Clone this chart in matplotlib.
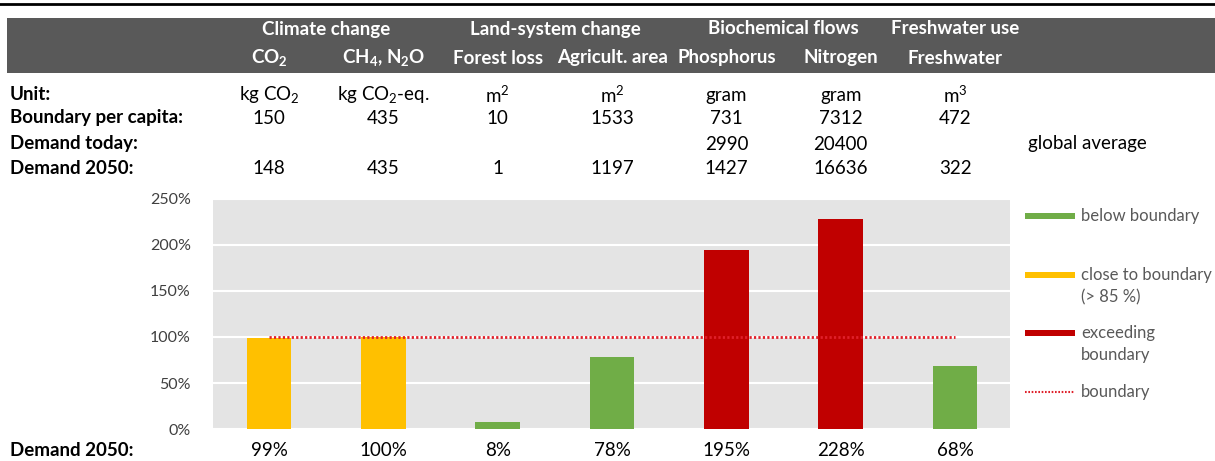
import matplotlib.pyplot as plt
from matplotlib.patches import Rectangle
from matplotlib.lines import Line2D
from matplotlib.transforms import blended_transform_factory

plt.rcParams['font.family'] = ['Lato', 'DejaVu Sans']
plt.rcParams['mathtext.fontset'] = 'custom'
plt.rcParams['mathtext.rm'] = 'Lato'
plt.rcParams['mathtext.bf'] = 'Lato:bold'

# data
groups = ["Climate change", "Land-system change", "Biochemical flows", "Freshwater use"]
group_pos = [0.5, 2.5, 4.5, 6]
categories = [r"CO$_\mathbf{2}$", r"CH$_\mathbf{4}$, N$_\mathbf{2}$O", "Forest loss",
              "Agricult. area", "Phosphorus", "Nitrogen", "Freshwater"]
units = [r"kg CO$_2$", r"kg CO$_2$-eq.", r"m$^2$", r"m$^2$", "gram", "gram", r"m$^3$"]
boundary = [150, 435, 10, 1533, 731, 7312, 472]
demand_today = [None, None, None, None, 2990, 20400, None]
demand_2050 = [148, 435, 1, 1197, 1427, 16636, 322]
share_2050 = [99, 100, 8, 78, 195, 228, 68]
status = ["close", "close", "below", "below", "exceed", "exceed", "below"]

colors = {"below": "#70AD47", "close": "#FFC000", "exceed": "#C00000"}
W, H = 1215, 461

fig = plt.figure(figsize=(W / 100, H / 100), dpi=100)

def fy(px):
    return 1 - px / H

# top rule and dark header band
fig.add_artist(Line2D([0, 1], [fy(4.5), fy(4.5)], color="black", lw=2,
                      transform=fig.transFigure))
fig.add_artist(Rectangle((7 / W, fy(73)), 1 - 7 / W, (73 - 18) / H,
                         transform=fig.transFigure, color="#595959", lw=0))

ax = fig.add_axes([213 / W, fy(429), (1010 - 213) / W, (429 - 199) / H])
ax.set_facecolor("#E4E4E4")
x = list(range(len(categories)))
ax.bar(x, share_2050, width=0.39, color=[colors[s] for s in status], zorder=3)
ax.plot([x[0], x[-1]], [100, 100], color="#E0202A", ls=(0, (0.8, 0.8)), lw=2, zorder=4)
ax.set_xlim(-0.49, 6.48)
ax.set_ylim(0, 250)
ax.set_yticks(range(0, 251, 50))
ax.set_yticklabels([f"{v}%" for v in range(0, 251, 50)], fontsize=11.5, color="#404040")
ax.set_xticks([])
ax.tick_params(axis="y", length=0, pad=16)
ax.grid(axis="y", color="white", lw=1.5, zorder=1)
for s in ax.spines.values():
    s.set_visible(False)

tr = blended_transform_factory(ax.transData, fig.transFigure)
fs = 13.5

for g, p in zip(groups, group_pos):
    fig.text(p, fy(29), g, transform=tr, ha="center", va="center", color="white",
             fontsize=fs, fontweight="bold")
for i, c in enumerate(categories):
    fig.text(x[i], fy(58), c, transform=tr, ha="center", va="center", color="white",
             fontsize=fs, fontweight="bold")
    fig.text(x[i], fy(95), units[i], transform=tr, ha="center", va="center", fontsize=fs)
    fig.text(x[i], fy(118), str(boundary[i]), transform=tr, ha="center", va="center", fontsize=fs)
    if demand_today[i] is not None:
        fig.text(x[i], fy(144), str(demand_today[i]), transform=tr, ha="center", va="center", fontsize=fs)
    fig.text(x[i], fy(169), str(demand_2050[i]), transform=tr, ha="center", va="center", fontsize=fs)
    fig.text(x[i], fy(450), f"{share_2050[i]}%", transform=tr, ha="center", va="center", fontsize=fs)

for lab, ypx in [("Unit:", 95), ("Boundary per capita:", 118), ("Demand today:", 144),
                 ("Demand 2050:", 169), ("Demand 2050:", 450)]:
    fig.text(10 / W, fy(ypx), lab, ha="left", va="center", fontsize=fs, fontweight="bold")
fig.text(1028 / W, fy(144), "global average", ha="left", va="center", fontsize=fs)

# legend drawn by hand
leg = [("below", "below boundary", 216, 216),
       ("close", "close to boundary\n(> 85 %)", 275, 286),
       ("exceed", "exceeding\nboundary", 333, 344)]
for key, txt, ymark, ytxt in leg:
    fig.add_artist(Rectangle((1025 / W, fy(ymark + 3)), 50 / W, 6 / H,
                             transform=fig.transFigure, color=colors[key], lw=0))
    fig.text(1081 / W, fy(ytxt), txt, ha="left", va="center", fontsize=12,
             color="#595959", linespacing=1.45)
fig.add_artist(Line2D([1025 / W, 1075 / W], [fy(392), fy(392)], color="#E0202A",
                      ls=(0, (0.8, 0.8)), lw=1.5, transform=fig.transFigure))
fig.text(1081 / W, fy(392), "boundary", ha="left", va="center", fontsize=12, color="#595959")

fig.savefig("out.png", dpi=100)
